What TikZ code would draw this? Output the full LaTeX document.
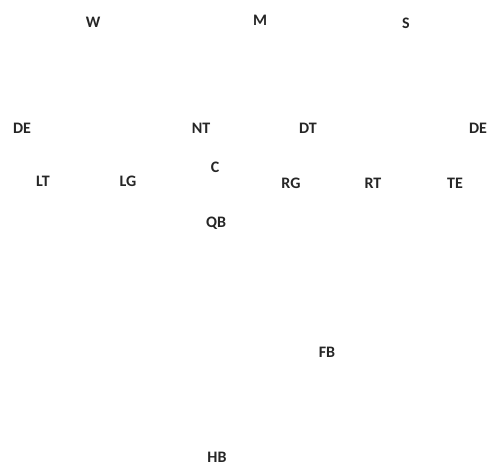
\documentclass[tikz,border=0pt]{standalone}
\usepackage{fontspec}
\setmainfont{Carlito}
\usetikzlibrary{positioning}

\begin{document}
\begin{tikzpicture}[x=1pt,y=-1pt,
 player/.style={inner sep=0pt,text=black!85,font=\fontsize{16}{18}\selectfont\bfseries}]
\useasboundingbox (0,0) rectangle (491,468);
% defense
\node[player] (w) at (93,22) {W};
\node[player] (m) at (260,20) {M};
\node[player] (s) at (406,23) {S};
\node[player] (del) at (22,128) {DE};
\node[player] (nt) at (201,128) {NT};
\node[player] (dt) at (308,128) {DT};
\node[player] (der) at (478,128) {DE};
% offense
\node[player] (lt) at (43,181) {LT};
\node[player] (lg) at (128,181) {LG};
\node[player] (c) at (215,167) {C};
\node[player] (rg) at (291,183) {RG};
\node[player] (rt) at (373,183) {RT};
\node[player] (te) at (455,183) {TE};
\node[player] (qb) at (216,223) {QB};
\node[player] (fb) at (327,352) {FB};
\node[player] (hb) at (217,457) {HB};
\end{tikzpicture}
\end{document}
